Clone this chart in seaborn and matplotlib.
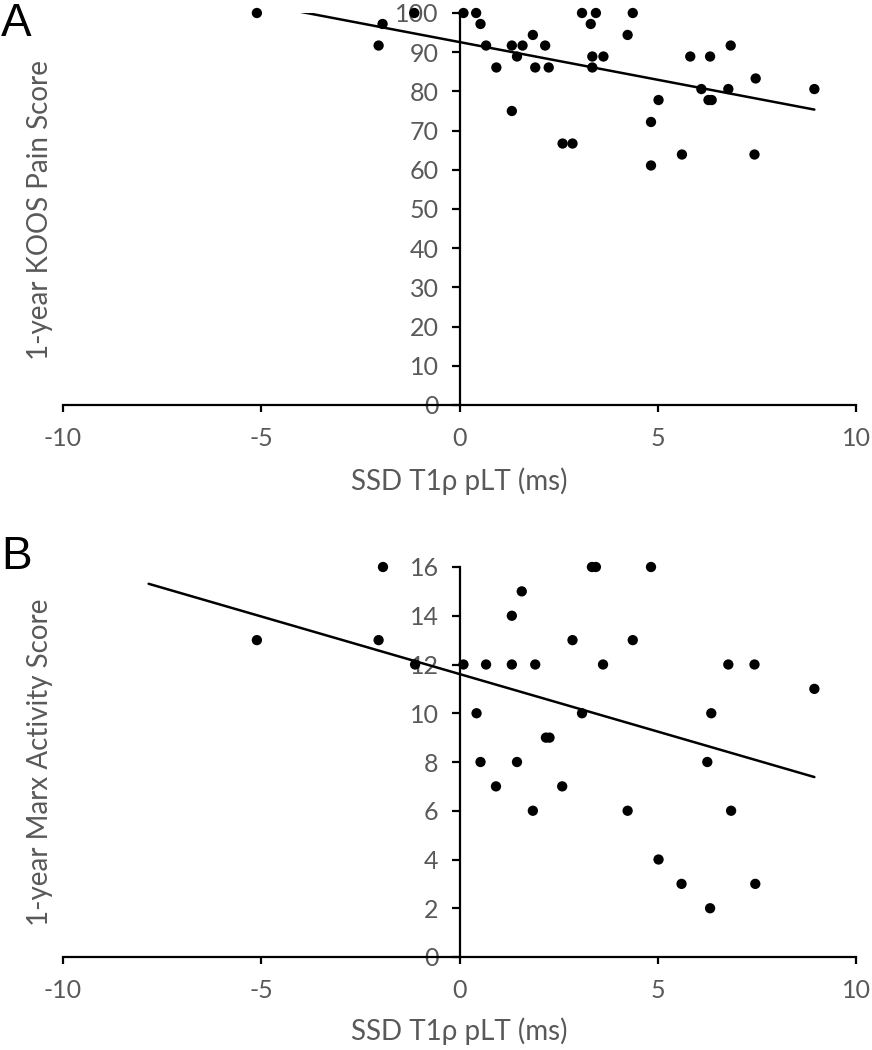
import numpy as np
import pandas as pd
import matplotlib
matplotlib.use("Agg")
import matplotlib.pyplot as plt
import seaborn as sns

# ---- data ----
x_a = [-5.11, -2.04, -1.94, -1.14, 0.10, 0.42, 0.53, 0.67, 0.93, 1.32, 1.32, 1.45, 1.59,
       1.85, 1.91, 2.16, 2.25, 2.60, 2.85, 3.09, 3.31, 3.35, 3.35, 3.44, 3.63, 4.24, 4.37,
       4.83, 4.83, 5.02, 5.61, 5.82, 6.10, 6.28, 6.32, 6.36, 6.78, 6.84, 7.44, 7.47, 8.95]
y_a = [100, 91.7, 97.2, 100, 100, 100, 97.2, 91.7, 86.1, 91.7, 75.0, 88.9, 91.7,
       94.4, 86.1, 91.7, 86.1, 66.7, 66.7, 100, 97.2, 88.9, 86.1, 100, 88.9, 94.4, 100,
       72.2, 61.1, 77.8, 63.9, 88.9, 80.6, 77.8, 88.9, 77.8, 80.6, 91.7, 63.9, 83.3, 80.6]

x_b = [-5.11, -2.04, -1.93, -1.12, 0.10, 0.43, 0.53, 0.67, 0.92, 1.32, 1.32, 1.45, 1.57,
       1.85, 1.91, 2.18, 2.27, 2.59, 2.85, 3.09, 3.34, 3.44, 3.62, 4.24, 4.37, 4.83,
       5.02, 5.60, 6.25, 6.32, 6.35, 6.78, 6.85, 7.44, 7.46, 8.95]
y_b = [13, 13, 16, 12, 12, 10, 8, 12, 7, 14, 12, 8, 15,
       6, 12, 9, 9, 7, 13, 10, 16, 16, 12, 6, 13, 16,
       4, 3, 8, 2, 10, 12, 6, 12, 3, 11]

x_ticks = [-10, -5, 0, 5, 10]
y_ticks_a = list(range(0, 101, 10))
y_ticks_b = list(range(0, 17, 2))
trend_start = -7.84

x_label = "SSD T1\u03c1 pLT (ms)"
y_label_a = "1-year KOOS Pain Score"
y_label_b = "1-year Marx Activity Score"

sns.set_style("white")
plt.rcParams['font.family'] = ['Lato', 'DejaVu Sans']
plt.rcParams['axes.unicode_minus'] = False

W, H = 872, 1050
fig = plt.figure(figsize=(W / 100, H / 100), dpi=100)

GRAY = '#595959'
FS_TICK = 18
FS_LAB = 20


def panel(rect, xs, ys, yticks, ylabel, letter, letter_y, xlabel_y, ylabel_y):
    l, b, r, t = rect
    ax = fig.add_axes([l / W, 1 - b / H, (r - l) / W, (b - t) / H])
    df = pd.DataFrame({'x': xs, 'y': ys})
    sns.scatterplot(data=df, x='x', y='y', ax=ax, color='black', s=55,
                    edgecolor='none', clip_on=False, zorder=3)
    slope, icpt = np.polyfit(df['x'], df['y'], 1)
    lx = np.array([trend_start, df['x'].max()])
    sns.lineplot(x=lx, y=slope * lx + icpt, ax=ax, color='black', lw=1.8, zorder=2)
    ax.set_xlim(x_ticks[0], x_ticks[-1])
    ax.set_ylim(yticks[0], yticks[-1])
    ax.set_xticks(x_ticks)
    ax.set_yticks(yticks)
    ax.set_xlabel('')
    ax.set_ylabel('')
    for s in ['top', 'right']:
        ax.spines[s].set_visible(False)
    ax.spines['left'].set_position(('data', 0))
    for s in ['left', 'bottom']:
        ax.spines[s].set_linewidth(1.6)
        ax.spines[s].set_color('black')
    ax.tick_params(axis='y', direction='out', length=6, width=1.6, color='black',
                   labelcolor=GRAY, labelsize=FS_TICK, pad=9, left=True)
    ax.tick_params(axis='x', direction='out', length=5, width=1.6, color='black',
                   labelcolor=GRAY, labelsize=FS_TICK, pad=11, bottom=True)
    ax.patch.set_alpha(0)
    fig.text(459 / W, 1 - xlabel_y / H, x_label, ha='center', va='center',
             fontsize=FS_LAB, color=GRAY)
    fig.text(40 / W, 1 - ylabel_y / H, ylabel, ha='center', va='center',
             rotation=90, fontsize=FS_LAB, color=GRAY)
    fig.text(1 / W, 1 - letter_y / H, letter, ha='left', va='top', fontsize=33,
             color='black', family=['Liberation Sans', 'DejaVu Sans'])
    return ax


panel((63, 405, 856, 13), x_a, y_a, y_ticks_a, y_label_a, 'A', 2, 481, 210)
panel((63, 957, 856, 567), x_b, y_b, y_ticks_b, y_label_b, 'B', 535, 1031, 762)

fig.savefig('out.png', dpi=100)
